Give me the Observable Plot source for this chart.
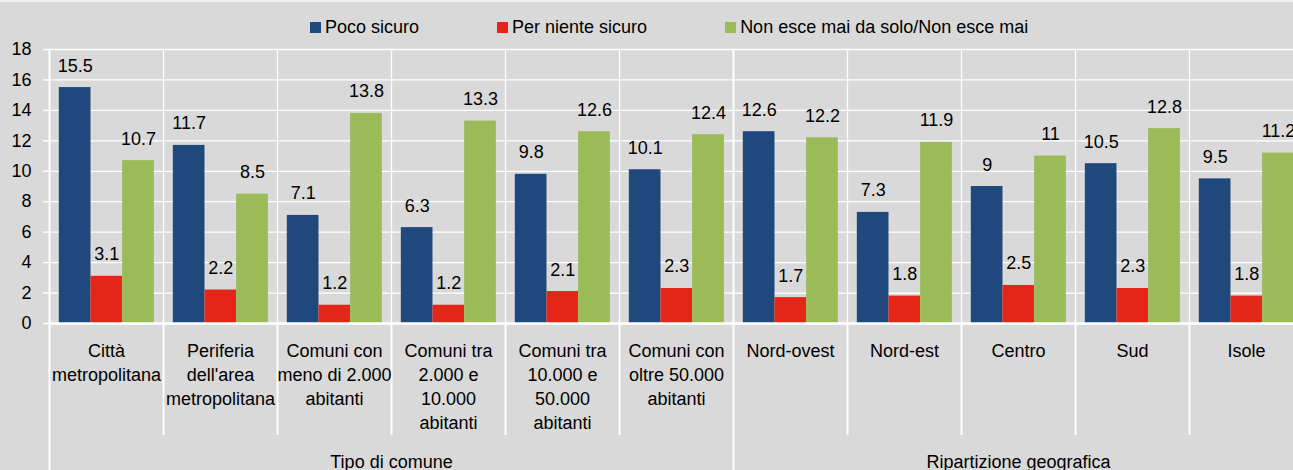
<!DOCTYPE html>
<html>
<head>
<meta charset="utf-8">
<script src="https://cdn.jsdelivr.net/npm/d3@7"></script>
<script src="https://cdn.jsdelivr.net/npm/@observablehq/plot@0.6"></script>
<style>
  html, body { margin: 0; padding: 0; background: #d9d9d9; overflow: hidden; width: 1293px; height: 470px; }
  #wrap { position: relative; width: 1293px; height: 470px; overflow: hidden; background: #d9d9d9; }
  #topband { position: absolute; left: 0; top: 0; width: 1293px; height: 2px; background: #efefef; }
  #chart { position: absolute; left: 0; top: 0; width: 1304px; }
  #legend { position: absolute; top: 16px; left: 310px; display: flex; column-gap: 78px;
            font: 18px "Liberation Sans", Arial, sans-serif; color: #000; white-space: nowrap; }
  .item { display: flex; align-items: center; line-height: 22px; }
  .sw { width: 11px; height: 11px; margin-right: 4px; }
</style>
</head>
<body>
<div id="wrap">
  <div id="topband"></div>
  <div id="chart"></div>
  <div id="legend"></div>
</div>
<script>
const categories = [
  "Città\nmetropolitana",
  "Periferia\ndell'area\nmetropolitana",
  "Comuni con\nmeno di 2.000\nabitanti",
  "Comuni tra\n2.000 e\n10.000\nabitanti",
  "Comuni tra\n10.000 e\n50.000\nabitanti",
  "Comuni con\noltre 50.000\nabitanti",
  "Nord-ovest",
  "Nord-est",
  "Centro",
  "Sud",
  "Isole"
];
const groupNames = ["Tipo di comune", "Ripartizione geografica"];
const groupSizes = [6, 5];
const series = ["Poco sicuro", "Per niente sicuro", "Non esce mai da solo/Non esce mai"];
const pocoSicuro      = [15.5, 11.7, 7.1, 6.3, 9.8, 10.1, 12.6, 7.3, 9, 10.5, 9.5];
const perNienteSicuro = [3.1, 2.2, 1.2, 1.2, 2.1, 2.3, 1.7, 1.8, 2.5, 2.3, 1.8];
const nonEsceMai      = [10.7, 8.5, 13.8, 13.3, 12.6, 12.4, 12.2, 11.9, 11, 12.8, 11.2];
const yTicks = [0, 2, 4, 6, 8, 10, 12, 14, 16, 18];
const colors = ["#1f497d", "#e42618", "#9bbb59"];

// build tables
const seriesValues = [pocoSicuro, perNienteSicuro, nonEsceMai];
const data = categories.flatMap((c, i) =>
  seriesValues.map((vals, s) => ({cat: c, s, series: series[s], value: vals[i]})));

const groupStarts = [];
{ let acc = 0; for (const n of groupSizes) { groupStarts.push(acc); acc += n; } }
const sepData = categories.map((c, i) => ({cat: c, groupStart: groupStarts.includes(i)}));

// x domain within each category facet (bar units)
const X0 = -0.31, X1 = 3.29;
const groupLabelData = groupNames.map((name, g) => {
  const mid = groupStarts[g] + groupSizes[g] / 2;
  const fi = Math.floor(mid);
  const frac = mid - fi;
  return {name, cat: categories[fi], x: X0 + frac * (X1 - X0)};
});

const font = '"Liberation Sans", Arial, sans-serif';
const FS = 18;

const chart = Plot.plot({
  width: 1304,
  height: 470,
  marginLeft: 48,
  marginRight: 0,
  marginTop: 49,
  marginBottom: 147,
  style: {background: "transparent", fontFamily: font, fontSize: FS + "px", color: "#000", overflow: "visible", maxWidth: "none"},
  fx: {domain: categories, padding: 0},
  x: {type: "linear", domain: [X0, X1], axis: null},
  y: {domain: [0, 18]},
  color: {domain: series, range: colors},
  marks: [
    Plot.gridY(yTicks, {stroke: "white", strokeOpacity: 1, strokeWidth: 1.3}),
    Plot.ruleX(sepData, {fx: "cat", x: () => X0, y1: 0, y2: 18, stroke: "white", strokeWidth: d => d.groupStart ? 2 : 1.3}),
    Plot.ruleX(sepData, {fx: "cat", x: () => X0, y1: 0, y2: d => d.groupStart ? -10 : -7.36, stroke: "white", strokeWidth: 2}),
    Plot.rect(data, {fx: "cat", x1: "s", x2: d => d.s + 1, y1: 0, y2: "value", fill: "series"}),
    Plot.ruleY([0], {stroke: "white", strokeWidth: 2.5}),
    Plot.axisY({ticks: yTicks, tickSize: 6, tickPadding: 12, stroke: "white", strokeWidth: 1.5, fill: "black", fontSize: FS, label: null}),
    Plot.axisFx({anchor: "bottom", tickSize: 0, tickPadding: 16, fontSize: FS, lineHeight: 24 / FS, fill: "black", label: null}),
    Plot.text(data, {fx: "cat", x: d => d.s + 0.5, y: "value", text: d => String(d.value), lineAnchor: "bottom", dy: -16, fontSize: FS, fill: "black"}),
    Plot.text(groupLabelData, {fx: "cat", x: "x", frameAnchor: "bottom", text: "name", lineAnchor: "bottom", dy: 144, fontSize: FS, fill: "black"})
  ]
});
document.getElementById("chart").appendChild(chart);

// legend
const legend = document.getElementById("legend");
series.forEach((name, i) => {
  const item = document.createElement("div");
  item.className = "item";
  const sw = document.createElement("span");
  sw.className = "sw";
  sw.style.background = colors[i];
  const label = document.createElement("span");
  label.textContent = name;
  item.appendChild(sw);
  item.appendChild(label);
  legend.appendChild(item);
});
</script>
</body>
</html>
